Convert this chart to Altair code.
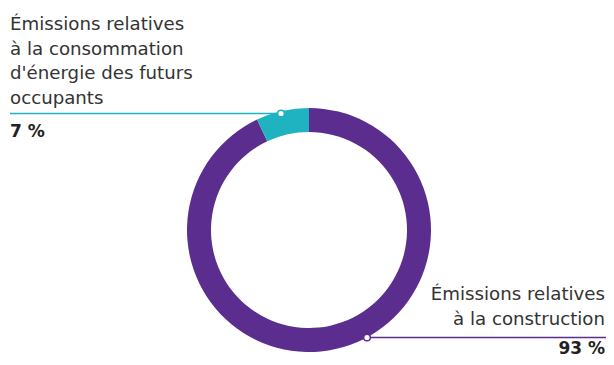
import altair as alt
import pandas as pd

# Data
categories = ["Émissions relatives à la construction",
              "Émissions relatives à la consommation d'énergie des futurs occupants"]
values = [93, 7]
colors = ["#5b2d8e", "#1fb3c2"]
order = [0, 1]

left_lines = ["Émissions relatives", "à la consommation", "d'énergie des futurs", "occupants"]
left_pct = "7 %"
right_lines = ["Émissions relatives", "à la construction"]
right_pct = "93 %"

W, H = 598, 349
CX, CY = 301, 222
FONT = "DejaVu Sans"

df = pd.DataFrame({"cat": categories, "value": values, "ord": order})

arcs = alt.Chart(df).mark_arc(outerRadius=122, innerRadius=98, x=CX, y=CY).encode(
    theta=alt.Theta("value:Q", stack=True, scale=alt.Scale(domain=[0, sum(values)])),
    color=alt.Color("cat:N", scale=alt.Scale(domain=categories, range=colors), legend=None),
    order=alt.Order("ord:Q"),
)

base = alt.Chart(pd.DataFrame({"a": [0]}))

ltext = base.mark_text(align="left", baseline="alphabetic", font=FONT, fontSize=18.2,
                       color="#333333", lineHeight=24.7, lineBreak="\n").encode(
    x=alt.value(2), y=alt.value(22), text=alt.value("\n".join(left_lines)))
lpct = base.mark_text(align="left", baseline="alphabetic", font=FONT, fontSize=17,
                      fontWeight="bold", color="#222222").encode(
    x=alt.value(2), y=alt.value(129), text=alt.value(left_pct))
rtext = base.mark_text(align="right", baseline="alphabetic", font=FONT, fontSize=18.2,
                       color="#333333", lineHeight=25, lineBreak="\n").encode(
    x=alt.value(597), y=alt.value(292), text=alt.value("\n".join(right_lines)))
rpct = base.mark_text(align="right", baseline="alphabetic", font=FONT, fontSize=17,
                      fontWeight="bold", color="#222222").encode(
    x=alt.value(597), y=alt.value(346), text=alt.value(right_pct))

lrule = base.mark_rule(stroke="#1fb3c2", color="#1fb3c2", strokeWidth=1.5, opacity=1).encode(
    x=alt.value(2), x2=alt.value(273), y=alt.value(105.5))
rrule = base.mark_rule(stroke="#5b2d8e", color="#5b2d8e", strokeWidth=1.5, opacity=1).encode(
    x=alt.value(359), x2=alt.value(598), y=alt.value(329.5))

ldot = base.mark_point(filled=True, fill="white", stroke="#1fb3c2", strokeWidth=1.5,
                       size=45, opacity=1).encode(x=alt.value(273), y=alt.value(105.5))
rdot = base.mark_point(filled=True, fill="white", stroke="#5b2d8e", strokeWidth=1.5,
                       size=45, opacity=1).encode(x=alt.value(359), y=alt.value(329.5))

chart = alt.layer(arcs, lrule, rrule, ldot, rdot, ltext, lpct, rtext, rpct).properties(
    width=W, height=H, autosize=alt.AutoSizeParams(type="none"), padding=0
).configure_view(stroke=None)

chart.save("out.html", embed_options={"renderer": "svg", "actions": False})
